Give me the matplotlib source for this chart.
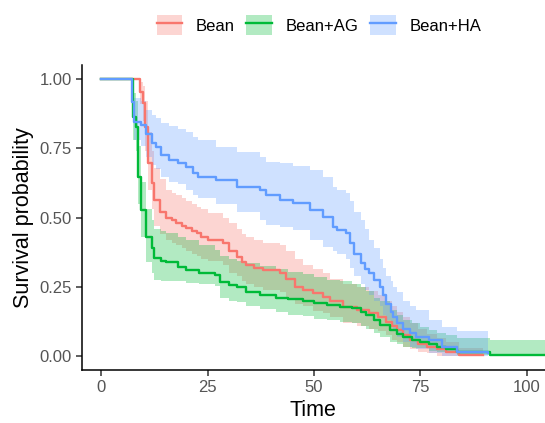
import matplotlib.pyplot as plt
from matplotlib.lines import Line2D
from matplotlib.patches import Patch

plt.rcParams["font.family"] = ["Liberation Sans", "DejaVu Sans"]

groups = ["Bean", "Bean+AG", "Bean+HA"]
colors = ["#F8766D", "#00BA38", "#619CFF"]

# Kaplan-Meier estimates: time, survival, lower / upper CI
bean_t = [0, 9, 9.8, 10.2, 11, 11.8, 12.5, 13.7, 15.3, 16.5, 17.6, 19, 20, 21.2, 22.4, 23.5, 25, 28.6,
          30, 31.8, 33, 34, 36, 38, 42, 43.5, 45.5, 47.5, 49.7, 52, 53.7, 56.8, 60, 63, 65, 67, 68.3,
          69.4, 71, 72.5, 74.5, 76.5, 79, 81, 84, 89.7]
bean_s = [1, .954, .912, .828, .697, .625, .563, .521, .498, .49, .48, .47, .462, .453, .444, .43, .419,
          .408, .38, .358, .34, .328, .318, .31, .30, .28, .25, .24, .227, .213, .20, .178, .166, .155,
          .14, .124, .11, .094, .075, .058, .045, .034, .025, .016, .005, .005]
bean_hi = [1, .99, .975, .92, .81, .74, .68, .64, .60, .59, .58, .57, .56, .55, .54, .53, .515, .50,
           .48, .46, .44, .43, .42, .41, .40, .38, .35, .33, .315, .30, .28, .26, .25, .235, .22, .20,
           .18, .16, .14, .12, .10, .08, .065, .05, .03, .03]
bean_lo = [1, .91, .85, .74, .60, .53, .47, .44, .42, .41, .40, .39, .38, .37, .36, .35, .345, .33,
           .30, .29, .27, .26, .25, .24, .23, .21, .19, .18, .165, .155, .14, .12, .11, .10, .09, .075,
           .06, .05, .035, .025, .015, .01, 0, 0, 0, 0]

ag_t = [0, 7.4, 8.2, 8.6, 9.4, 10.6, 11.8, 12.5, 14, 15.3, 18, 20, 23, 26.7, 27.8, 30, 31.8, 34, 37.2,
        41, 44, 47.4, 50, 53, 56, 59, 61, 62.3, 64, 65.5, 67.8, 69.5, 71, 73, 75, 77, 78.8, 81, 83.5,
        91.4, 106]
ag_s = [1, .864, .828, .647, .527, .43, .39, .354, .345, .34, .322, .31, .30, .292, .268, .258, .25,
        .232, .22, .21, .205, .20, .192, .184, .178, .173, .16, .148, .13, .112, .094, .082, .07, .06,
        .052, .043, .034, .025, .016, .005, .005]
ag_hi = [1, .95, .92, .76, .63, .53, .49, .46, .45, .445, .43, .42, .40, .385, .36, .35, .345, .335,
         .325, .315, .305, .295, .285, .275, .27, .26, .25, .235, .21, .20, .166, .15, .13, .12, .106,
         .095, .085, .075, .065, .06, .06]
ag_lo = [1, .78, .74, .55, .43, .34, .30, .275, .27, .27, .27, .265, .26, .255, .21, .20, .195, .18,
         .17, .16, .15, .145, .135, .13, .125, .12, .11, .10, .085, .07, .05, .045, .035, .03, .029,
         .02, .016, .01, .005, 0, 0]

ha_t = [0, 7.1, 7.8, 9.4, 10.6, 11.8, 12.9, 14.1, 16, 18, 20, 21.5, 22.7, 27, 31.8, 37.2, 38.8, 42,
        45, 49, 52, 54.5, 55.5, 57.6, 58.5, 59.3, 61, 62, 63, 64, 65.5, 66.3, 67, 68, 68.6, 69.5, 71,
        72.5, 74, 77, 80, 83.5, 91]
ha_s = [1, .918, .846, .834, .80, .768, .756, .726, .708, .697, .683, .66, .647, .635, .61, .60, .58,
        .563, .552, .527, .503, .467, .455, .444, .41, .37, .335, .315, .30, .275, .25, .22, .19, .16,
        .14, .12, .10, .085, .07, .058, .033, .015, .01]
ha_hi = [1, .97, .93, .92, .89, .87, .86, .84, .83, .82, .81, .79, .78, .755, .735, .72, .70, .697,
         .685, .67, .647, .61, .60, .588, .56, .52, .49, .46, .42, .39, .35, .32, .29, .27, .25, .23,
         .20, .18, .166, .13, .106, .09, .08]
ha_lo = [1, .86, .78, .76, .72, .69, .675, .645, .63, .62, .60, .58, .57, .55, .52, .49, .475, .467,
         .455, .42, .395, .38, .37, .35, .32, .29, .26, .24, .22, .20, .18, .15, .13, .11, .09, .07,
         .05, .035, .025, .01, 0, 0, 0]

curves = [
    (bean_t, bean_s, bean_lo, bean_hi),
    (ag_t, ag_s, ag_lo, ag_hi),
    (ha_t, ha_s, ha_lo, ha_hi),
]

fig = plt.figure(figsize=(5.45, 4.23), dpi=100)
ax = fig.add_axes([0.150, 0.125, 0.850, 0.721])

# bands first, then the step lines on top
for (t, s, lo, hi), c in zip(curves, colors):
    ax.fill_between(t, lo, hi, step="post", color=c, alpha=0.3, linewidth=0)
for (t, s, lo, hi), c in zip(curves, colors):
    ax.step(t, s, where="post", color=c, linewidth=1.7)

ax.set_xlim(-4.6, 104.3)
ax.set_ylim(-0.05, 1.05)
ax.set_xticks([0, 25, 50, 75, 100])
ax.set_yticks([0, 0.25, 0.5, 0.75, 1.0])
ax.set_yticklabels(["0.00", "0.25", "0.50", "0.75", "1.00"])
for side in ["top", "right"]:
    ax.spines[side].set_visible(False)
for side in ["left", "bottom"]:
    ax.spines[side].set_linewidth(1.1)
ax.tick_params(length=4, width=1.1, pad=3, colors="#333333", labelcolor="#555555", labelsize=12)
ax.set_xlabel("Time", fontsize=15.5, labelpad=4)
ax.set_ylabel("Survival probability", fontsize=15.5, labelpad=4)

handles = [(Patch(facecolor=c, alpha=0.3, linewidth=0), Line2D([], [], color=c, linewidth=1.7))
           for c in colors]
fig.legend(handles, groups, loc="upper center", bbox_to_anchor=(0.585, 1.0), ncol=3, frameon=False,
           fontsize=12, handlelength=1.55, handleheight=1.5, columnspacing=0.7, handletextpad=0.8)

fig.savefig("out.png", dpi=100)
